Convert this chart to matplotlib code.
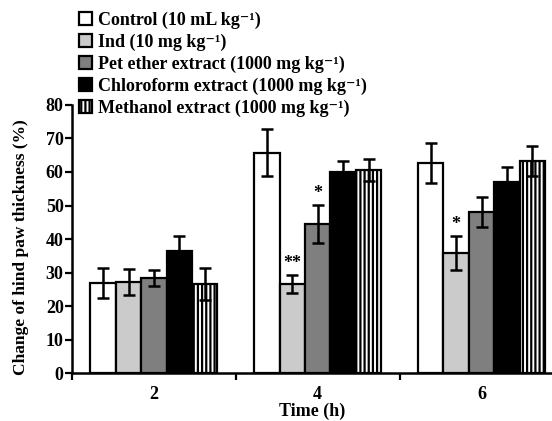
import numpy as np
import matplotlib
matplotlib.use('Agg')
import matplotlib.pyplot as plt

plt.rcParams['font.family'] = ['Liberation Serif', 'DejaVu Serif']
plt.rcParams['hatch.linewidth'] = 1.6

# data
times = ['2', '4', '6']
groups = ['Control (10 mL kg⁻¹)', 'Ind (10 mg kg⁻¹)',
          'Pet ether extract (1000 mg kg⁻¹)',
          'Chloroform extract (1000 mg kg⁻¹)',
          'Methanol extract (1000 mg kg⁻¹)']
control = [26.9, 65.7, 62.7]
control_err = [4.5, 7.0, 6.0]
ind = [27.1, 26.6, 35.8]
ind_err = [3.8, 2.7, 5.1]
pet = [28.4, 44.5, 48.1]
pet_err = [2.4, 5.6, 4.5]
chloro = [36.4, 60.0, 57.0]
chloro_err = [4.5, 3.3, 4.5]
methanol = [26.6, 60.6, 63.3]
methanol_err = [4.7, 3.3, 4.5]
# significance marks: (group index, time index, label)
signif = [(1, 1, '**'), (2, 1, '*'), (1, 2, '*')]

values = [control, ind, pet, chloro, methanol]
errors = [control_err, ind_err, pet_err, chloro_err, methanol_err]
faces = ['white', '#cbcbcb', '#7f7f7f', 'black', 'white']
hatches = [None, None, None, None, '||||']

fig = plt.figure(figsize=(5.52, 4.21), dpi=100)
ax = fig.add_axes([0.1304, 0.114, 0.8696, 0.6366])

x = np.arange(len(times))
w = 0.155
handles = []
for i, (vals, errs) in enumerate(zip(values, errors)):
    pos = x + (i - 2) * w
    b = ax.bar(pos, vals, w, color=faces[i], edgecolor='black', linewidth=1.6,
               hatch=hatches[i], label=groups[i], zorder=2)
    ax.errorbar(pos, vals, yerr=errs, fmt='none', ecolor='black', elinewidth=1.8,
                capsize=4.5, capthick=1.8, zorder=3)
    handles.append(b)

for gi, ti, lab in signif:
    xp = x[ti] + (gi - 2) * w
    top = values[gi][ti] + errors[gi][ti]
    ax.text(xp, top + 0.8, lab, ha='center', va='bottom', fontsize=13,
            fontweight='bold')

ax.set_xlim(-0.5, 2.43)
ax.set_ylim(0, 80)
ax.set_yticks(np.arange(0, 81, 10))
ax.set_xticks(x)
ax.set_xticklabels(times)
ax.set_xticks([-0.5, 0.5, 1.5], minor=True)
ax.tick_params(axis='x', which='major', length=0, pad=9, labelsize=13)
ax.tick_params(axis='x', which='minor', direction='out', length=5, width=1.6)
ax.tick_params(axis='y', direction='out', length=5, width=1.6, labelsize=13, pad=1)
for lab in ax.get_xticklabels() + ax.get_yticklabels():
    lab.set_fontweight('bold')

for s in ['top', 'right']:
    ax.spines[s].set_visible(False)
for s in ['left', 'bottom']:
    ax.spines[s].set_linewidth(1.8)

ax.set_xlabel('Time (h)', fontsize=13, fontweight='bold', labelpad=0)
ax.set_ylabel('Change of hind paw thickness (%)', fontsize=12.5, fontweight='bold')
ax.yaxis.set_label_coords(-0.09, 0.47)

fig.legend(handles=handles, loc='upper left', bbox_to_anchor=(0.122, 1.0),
           frameon=False, handlelength=0.7, handleheight=0.7,
           handletextpad=0.35, labelspacing=0.26, borderaxespad=0.25,
           prop={'weight': 'bold', 'size': 13})

fig.savefig('out.png', dpi=100)
